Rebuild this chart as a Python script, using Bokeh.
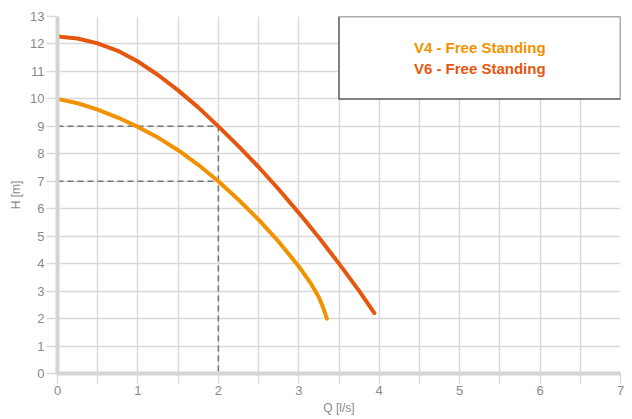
from bokeh.plotting import figure
from bokeh.models import FixedTicker, BoxAnnotation, Label, Range1d
from bokeh.embed import file_html
from bokeh.resources import INLINE

# Data
v4_q = [0, 0.25, 0.5, 0.75, 1.0, 1.25, 1.5, 1.75, 2.0, 2.25, 2.5, 2.75, 3.0, 3.15, 3.25, 3.3, 3.35]
v4_h = [10.0, 9.84, 9.61, 9.32, 8.98, 8.59, 8.13, 7.6, 7.0, 6.33, 5.6, 4.8, 3.9, 3.28, 2.78, 2.42, 2.0]
v6_q = [0, 0.25, 0.5, 0.75, 1.0, 1.25, 1.5, 1.75, 2.0, 2.25, 2.5, 2.75, 3.0, 3.25, 3.5, 3.75, 3.94]
v6_h = [12.27, 12.2, 12.02, 11.75, 11.36, 10.87, 10.31, 9.69, 9.0, 8.28, 7.52, 6.71, 5.85, 4.95, 4.0, 3.01, 2.2]
op1_q = [0, 2, 2]
op1_h = [9, 9, 0]
op2_q = [0, 2]
op2_h = [7, 7]
x_ticks = [i * 0.5 for i in range(15)]
y_ticks = list(range(14))
legend_labels = ["V4 - Free Standing", "V6 - Free Standing"]
x_label = "Q [l/s]"
y_label = "H [m]"

V4_COLOR = "#F39200"
V6_COLOR = "#E5560F"
GRID = "#d9d9d9"
AXIS = "#d4d4d4"
TXT = "#8a8a8a"

p = figure(width=632, height=419, output_backend="svg", toolbar_location=None,
           x_range=Range1d(0, 7), y_range=Range1d(0, 13),
           min_border_left=57, min_border_top=16, min_border_right=12, min_border_bottom=46)
p.outline_line_color = None
p.background_fill_color = "white"
p.border_fill_color = "white"

p.xaxis.ticker = FixedTicker(ticks=x_ticks)
p.xaxis.major_label_overrides = {t: ("" if t != int(t) else str(int(t))) for t in x_ticks}
p.yaxis.ticker = FixedTicker(ticks=y_ticks)
p.xgrid.ticker = FixedTicker(ticks=x_ticks[1:])
p.ygrid.ticker = FixedTicker(ticks=y_ticks[1:-1])

for ax in (p.xaxis, p.yaxis):
    ax.axis_line_color = AXIS
    ax.axis_line_width = 4
    ax.major_tick_line_color = GRID
    ax.major_tick_line_width = 1.5
    ax.minor_tick_line_color = None
    ax.major_tick_in = 0
    ax.major_label_text_color = TXT
    ax.major_label_text_font = "Liberation Sans"
    ax.major_label_text_font_size = "13px"
    ax.axis_label_text_color = TXT
    ax.axis_label_text_font = "Liberation Sans"
    ax.axis_label_text_font_size = "12px"
    ax.axis_label_text_font_style = "normal"

p.xaxis.major_tick_out = 10
p.yaxis.major_tick_out = 11
p.xaxis.major_label_standoff = 2
p.yaxis.major_label_standoff = 2
p.xaxis.axis_label_standoff = 3
p.yaxis.axis_label_standoff = 4
p.xaxis.axis_label = x_label
p.yaxis.axis_label = y_label

p.grid.grid_line_color = GRID
p.grid.grid_line_width = 1.5

p.line(op1_q, op1_h, line_color="#777777", line_width=1.5, line_dash="6 4")
p.line(op2_q, op2_h, line_color="#777777", line_width=1.5, line_dash="6 4")

p.line(v4_q, v4_h, line_color=V4_COLOR, line_width=4, line_cap="round", line_join="round")
p.line(v6_q, v6_h, line_color=V6_COLOR, line_width=4, line_cap="round", line_join="round")

box = BoxAnnotation(left=3.5, right=7, bottom=10, top=13, fill_color="white", fill_alpha=1,
                    line_color="#5a5a5a", line_alpha=1, line_width=1.5)
p.add_layout(box)
for txt, yy, col in zip(legend_labels, [11.87, 11.1], [V4_COLOR, V6_COLOR]):
    p.add_layout(Label(x=5.25, y=yy, text=txt, text_align="center", text_baseline="middle",
                       text_color=col, text_font="Liberation Sans", text_font_style="bold",
                       text_font_size="15px"))

open("out.html", "w").write(file_html(p, INLINE))
